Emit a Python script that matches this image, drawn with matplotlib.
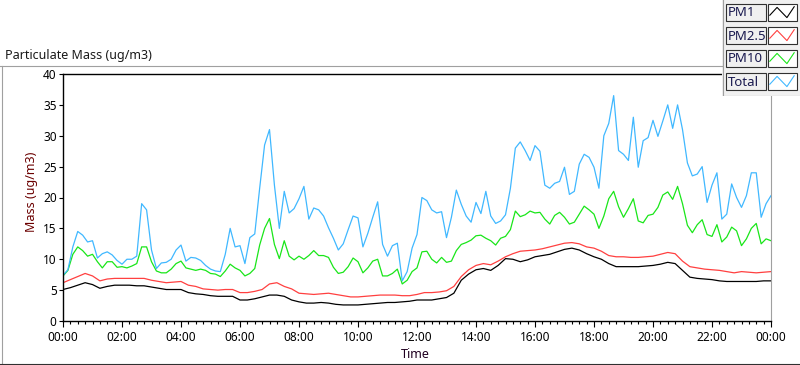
import numpy as np
import matplotlib
matplotlib.use("Agg")
import matplotlib.pyplot as plt
from matplotlib.patches import Rectangle
from matplotlib.lines import Line2D
from matplotlib.ticker import MultipleLocator, FuncFormatter

plt.rcParams['font.family'] = ['Noto Sans', 'DejaVu Sans']

# series names / colours (legend order)
names = ['PM1', 'PM2.5', 'PM10', 'Total']
colors = ['#000000', '#ff4040', '#19e619', '#40b8ff']

# PM1 and PM2.5, every 15 minutes from 00:00 to 24:00 (ug/m3)
pm1 = [5.1, 5.4, 5.8, 6.2, 5.9, 5.3, 5.6, 5.8, 5.8, 5.8, 5.7, 5.7, 5.5, 5.3, 5.1, 5.1, 5.1, 4.6, 4.4, 4.3, 4.1, 4.0, 4.0, 4.0, 3.4,
       3.4, 3.6, 3.9, 4.2, 4.2, 4.0, 3.4, 3.1, 2.9, 2.9, 3.0, 2.9, 2.7, 2.6, 2.6, 2.6, 2.7, 2.8, 2.9, 3.0, 3.0, 3.1, 3.2, 3.4,
       3.4, 3.4, 3.6, 3.8, 4.5, 6.6, 7.6, 8.3, 8.5, 8.2, 9.0, 10.1, 10.0, 9.6, 9.9, 10.4, 10.6, 10.8, 11.2, 11.6, 11.8, 11.5, 10.9, 10.4,
       10.0, 9.3, 8.8, 8.8, 8.8, 8.8, 8.9, 9.0, 9.2, 9.5, 9.3, 8.2, 7.1, 6.9, 6.8, 6.7, 6.5, 6.4, 6.4, 6.4, 6.4, 6.4, 6.5, 6.5]
pm25 = [6.2, 6.7, 7.2, 7.7, 7.3, 6.5, 6.8, 6.9, 6.9, 6.9, 6.9, 6.9, 6.6, 6.4, 6.2, 6.3, 6.4, 5.8, 5.6, 5.2, 5.1, 5.0, 5.1, 5.1, 4.6,
        4.6, 4.8, 5.1, 6.0, 6.2, 5.6, 5.2, 4.5, 4.4, 4.3, 4.4, 4.5, 4.3, 4.1, 3.9, 3.9, 4.0, 4.1, 4.2, 4.2, 4.2, 4.1, 4.1, 4.3,
        4.6, 4.6, 4.7, 4.9, 5.6, 7.2, 8.3, 9.0, 9.3, 9.1, 9.7, 10.4, 10.9, 11.3, 11.4, 11.5, 11.7, 12.0, 12.3, 12.6, 12.7, 12.5, 12.0, 11.8,
        11.3, 10.6, 10.4, 10.4, 10.3, 10.3, 10.4, 10.5, 10.8, 11.1, 10.9, 9.7, 8.8, 8.6, 8.4, 8.3, 8.2, 8.0, 7.8, 8.0, 7.9, 7.8, 7.9, 8.0]

# PM10 and Total, every 10 minutes from 00:00 to 24:00 (ug/m3)
pm10 = [7.3, 8.2, 10.8, 12.0, 11.4, 10.5, 10.8, 9.6, 8.6, 9.6, 9.6, 8.7, 8.8, 8.6, 8.9, 9.3, 12.0, 12.0, 9.6, 8.1, 7.8, 7.8, 8.4, 9.3,
        9.7, 8.6, 8.4, 8.2, 8.4, 8.2, 7.7, 7.6, 7.2, 8.1, 9.2, 8.6, 8.2,
        7.3, 7.7, 8.5, 12.3, 15.0, 16.6, 12.4, 10.1, 13.0, 10.5, 9.9, 10.5, 10.0, 10.6, 11.4, 10.6, 10.6, 10.3,
        8.7, 7.7, 7.9, 8.8, 10.2, 9.6, 7.8, 8.6, 9.7, 10.0, 7.3, 7.3, 7.7, 8.4, 6.0, 6.6, 8.0, 8.6,
        11.2, 11.3, 10.0, 9.4, 10.3, 9.5, 9.7, 11.4, 12.4, 12.7, 13.1, 13.8, 13.9, 13.4, 13.0, 12.3, 13.4, 13.7,
        14.8, 17.8, 16.9, 17.2, 17.8, 17.5, 17.6, 16.5, 15.7, 17.1, 17.6, 16.8, 15.7, 16.0, 17.3, 18.6, 18.0, 17.3,
        15.0, 17.0, 19.8, 21.0, 18.5, 16.8, 18.2, 19.8, 16.2, 15.9, 17.1, 17.3, 18.4, 20.4, 20.9, 19.7, 21.8, 19.0,
        15.5, 14.3, 15.6, 16.4, 14.0, 13.7, 15.6, 12.8, 13.6, 15.2, 14.6, 12.2, 13.3, 15.0, 15.8, 12.5, 13.3, 13.0]
total = [7.4, 8.3, 12.0, 14.5, 13.9, 12.8, 13.0, 10.2, 10.9, 11.2, 10.7, 9.8, 9.2, 10.0, 10.0, 10.5, 19.0, 18.0, 11.5, 8.5,
         9.4, 9.5, 10.0, 11.5, 12.3, 9.7, 10.3, 10.2, 9.8, 9.0, 8.4, 8.1, 8.0, 10.8, 15.0, 12.0, 12.2,
         9.3, 13.5, 14.1, 21.5, 28.5, 31.0, 22.0, 15.0, 21.0, 17.5, 18.2, 19.8, 21.8, 16.5, 18.3, 18.0, 17.0, 15.1,
         13.4, 11.5, 12.5, 14.8, 17.0, 16.7, 12.0, 14.2, 16.8, 19.3, 12.4, 10.5, 12.2, 12.6, 6.5, 8.0, 11.8, 14.0,
         20.0, 19.5, 18.0, 17.5, 17.7, 13.5, 16.8, 21.2, 18.9, 17.0, 16.0, 19.2, 17.4, 21.0, 17.0, 15.8, 16.2, 17.2,
         21.5, 28.0, 29.0, 27.6, 26.0, 28.4, 27.5, 22.0, 21.5, 22.3, 22.6, 24.9, 20.5, 21.0, 25.4, 27.0, 26.5, 24.9,
         21.5, 30.0, 32.0, 36.5, 27.6, 27.0, 26.0, 33.0, 24.9, 29.2, 29.7, 32.5, 29.9, 32.4, 35.0, 31.2, 35.0, 31.0,
         25.6, 23.5, 23.8, 25.0, 19.2, 22.0, 24.0, 16.5, 17.3, 22.2, 20.0, 18.4, 20.3, 24.0, 24.0, 16.8, 19.0, 20.3]

t15 = np.arange(len(pm1)) / 4.0    # hours
t10 = np.arange(len(total)) / 6.0  # hours
series = [(t15, pm1), (t15, pm25), (t10, pm10), (t10, total)]

W, H = 800, 365


def fx(px):
    return px / W


def fy(py):
    return 1 - py / H


fig = plt.figure(figsize=(8, 3.65), dpi=100)

# outer frame of the chart control
fig.add_artist(Line2D([fx(0), fx(722)], [fy(65.5), fy(65.5)], color='#a0a0a0', lw=0.8))
fig.add_artist(Line2D([fx(1.5), fx(1.5)], [fy(65.5), fy(364)], color='#a0a0a0', lw=0.8))
fig.add_artist(Line2D([fx(0), fx(800)], [fy(364), fy(364)], color='#303030', lw=0.8))

fig.text(fx(5), fy(56), 'Particulate Mass (ug/m3)', fontsize=9, color='#1a1a1a', ha='left', va='center')

ax = fig.add_axes([fx(63), fy(321), (771 - 63) / W, (321 - 74) / H])
for (t, y), c in zip(series, colors):
    ax.plot(t, y, color=c, lw=0.9)

ax.set_xlim(0, 24)
ax.set_ylim(0, 40)
ax.xaxis.set_major_locator(MultipleLocator(2))
ax.xaxis.set_minor_locator(MultipleLocator(0.25))
ax.xaxis.set_major_formatter(FuncFormatter(lambda v, p: f"{int(round(v)) % 24:02d}:00"))
ax.yaxis.set_major_locator(MultipleLocator(5))
ax.tick_params(axis='both', which='both', direction='out', labelsize=8.5, width=0.8, colors='#000000')
ax.tick_params(axis='x', which='major', length=4.5, pad=3)
ax.tick_params(axis='x', which='minor', length=2)
ax.tick_params(axis='y', which='major', length=3, pad=1.5)
for s in ['left', 'bottom', 'top']:
    ax.spines[s].set_linewidth(1.0)
    ax.spines[s].set_color('#000000')
ax.spines['right'].set_color('#a0a0a0')
ax.spines['right'].set_linewidth(0.8)

fig.text(fx(32), fy(192), 'Mass (ug/m3)', rotation=90, fontsize=9, color='#6b0000', ha='center', va='center')
fig.text(fx(415), fy(354), 'Time', fontsize=9, color='#200020', ha='center', va='center')

# legend panel in the top right corner
lax = fig.add_axes([fx(722), fy(96), 78 / W, 96 / H])
lax.set_xlim(0, 78)
lax.set_ylim(96, 0)
lax.axis('off')
lax.add_patch(Rectangle((0, 0), 78, 96, facecolor='#f0f0f0', edgecolor='none'))
lax.plot([0.5, 0.5], [0, 95.5], color='#a0a0a0', lw=0.8)
lax.plot([0.5, 78], [95.5, 95.5], color='#a0a0a0', lw=0.8)
for i, (name, c) in enumerate(zip(names, colors)):
    top = 4 + 23 * i
    h = 17
    lax.add_patch(Rectangle((3.5, top), 40, h, facecolor='#f0f0f0', edgecolor='#303030', lw=0.8))
    lax.text(5.5, top + h / 2 + 0.5, name, fontsize=9.5, color='#1a1a50', ha='left', va='center')
    lax.add_patch(Rectangle((45.5, top), 29, h, facecolor='#ffffff', edgecolor='#303030', lw=0.8))
    zx = 45.5 + 29 * np.array([0.08, 0.33, 0.67, 0.92])
    zy = top + h * np.array([0.66, 0.2, 0.8, 0.16])
    lax.plot(zx, zy, color=c, lw=0.8)

fig.savefig('out.png', dpi=100)
